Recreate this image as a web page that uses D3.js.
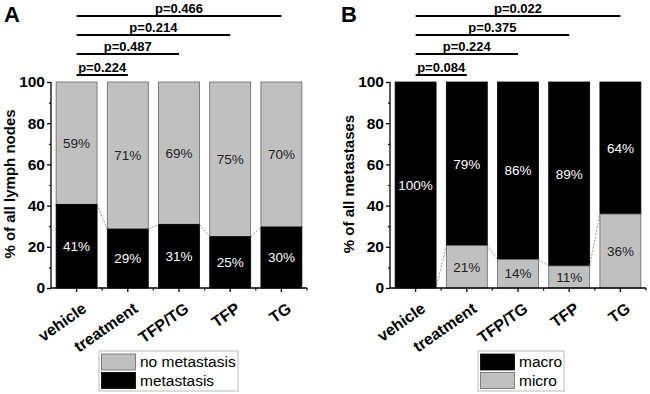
<!DOCTYPE html>
<html>
<head>
<meta charset="utf-8">
<script src="https://cdn.jsdelivr.net/npm/d3@7"></script>
<style>
body { margin: 0; background: #fff; }
svg { font-family: "Liberation Sans", Arial, sans-serif; }
</style>
</head>
<body>
<div id="svg-container"></div>
<script>
// groups on the x axis (same for both panels)
var groups = ["vehicle", "treatment", "TFP/TG", "TFP", "TG"];

// panel A: share of lymph nodes with metastasis (%), rest = no metastasis
var metastasisA = [40.6, 28.6, 30.9, 24.9, 29.6];
var pLabelsA = ["p=0.224", "p=0.487", "p=0.214", "p=0.466"];

// panel B: share of micro metastases (%), rest = macro
var microB = [0, 20.6, 13.9, 10.7, 35.9];
var pLabelsB = ["p=0.084", "p=0.224", "p=0.375", "p=0.022"];

var yTicks = [0, 20, 40, 60, 80, 100];

var W = 650, H = 394;
var svg = d3.select("#svg-container").append("svg")
	.attr("width", W).attr("height", H);

function drawPanel(opt) {
	var g = svg.append("g");
	var x = d3.scaleBand().domain(groups)
		.range([opt.x0, opt.x1]).paddingInner(0.2).paddingOuter(0.1);
	var y = d3.scaleLinear().domain([0, 100]).range([288, 82]);

	// stacked bars
	var bottomVals = opt.bottom;
	groups.forEach(function(gr, i) {
		var v = bottomVals[i];
		g.append("rect")
			.attr("x", x(gr)).attr("width", x.bandwidth())
			.attr("y", y(100)).attr("height", y(v) - y(100))
			.attr("fill", opt.topColor)
			.attr("stroke", opt.topColor == "#000" ? "#000" : "#666")
			.attr("stroke-width", 0.8);
		if (v > 0) {
			g.append("rect")
				.attr("x", x(gr)).attr("width", x.bandwidth())
				.attr("y", y(v)).attr("height", y(0) - y(v))
				.attr("fill", opt.bottomColor)
				.attr("stroke", opt.bottomColor == "#000" ? "#000" : "#666")
				.attr("stroke-width", 0.8);
		}
		// value labels
		var cx = x(gr) + x.bandwidth() / 2;
		var topPct = Math.round(100 - v), botPct = Math.round(v);
		g.append("text")
			.attr("x", cx).attr("y", (y(100) + y(v)) / 2)
			.attr("dy", "0.35em")
			.attr("text-anchor", "middle")
			.style("font-size", "13.5px")
			.style("fill", opt.topColor == "#000" ? "#fff" : "#222")
			.text(topPct + "%");
		if (v > 0) {
			g.append("text")
				.attr("x", cx).attr("y", (y(v) + y(0)) / 2)
				.attr("dy", "0.35em")
				.attr("text-anchor", "middle")
				.style("font-size", "13.5px")
				.style("fill", opt.bottomColor == "#000" ? "#fff" : "#222")
				.text(botPct + "%");
		}
	});

	// dashed connectors between segments
	for (var i = 0; i < groups.length - 1; i++) {
		g.append("line")
			.attr("x1", x(groups[i]) + x.bandwidth())
			.attr("y1", y(bottomVals[i]))
			.attr("x2", x(groups[i + 1]))
			.attr("y2", y(bottomVals[i + 1]))
			.attr("stroke", "#777")
			.attr("stroke-width", 0.8)
			.attr("stroke-dasharray", "2,1.5");
	}

	// y axis
	var yAxis = d3.axisLeft(y).tickValues(yTicks).tickSize(4).tickPadding(2);
	var ya = g.append("g").attr("transform", "translate(" + opt.x0 + ",0)").call(yAxis);
	ya.select(".domain").attr("stroke-width", 1.3).attr("d", "M0," + y(100) + "V" + y(0));
	ya.selectAll("line").attr("stroke-width", 1.3);
	ya.selectAll("text").style("font-size", "15.5px").style("font-weight", "bold").style("fill", "#000");
	g.append("g").attr("transform", "translate(" + opt.x0 + ",0)")
		.call(d3.axisLeft(y).tickValues([10, 30, 50, 70, 90]).tickSize(2).tickFormat(""))
		.call(function(s) { s.select(".domain").remove(); s.selectAll("line").attr("stroke-width", 1.2); });

	// x axis
	var xa = g.append("g").attr("transform", "translate(0," + y(0) + ")")
		.call(d3.axisBottom(x).tickSize(4).tickFormat(""));
	xa.select(".domain").attr("stroke-width", 1.3).attr("d", "M" + opt.x0 + ",0H" + opt.x1);
	xa.selectAll("line").attr("stroke-width", 1.3);
	var gaps = groups.slice(1).map(function(gr) { return x(gr) - x.step() * x.paddingInner() / 2; });
	gaps.push(opt.x1);
	gaps.forEach(function(gx) {
		xa.append("line").attr("x1", gx).attr("x2", gx).attr("y1", 0).attr("y2", 2.5)
			.attr("stroke", "#000").attr("stroke-width", 1.2);
	});
	groups.forEach(function(gr) {
		var cx = x(gr) + x.bandwidth() / 2;
		g.append("text")
			.attr("transform", "translate(" + (cx + 11) + "," + (y(0) + 23) + ") rotate(-35)")
			.attr("text-anchor", "end")
			.style("font-size", "16px").style("font-weight", "bold")
			.text(gr);
	});

	// y title
	g.append("text")
		.attr("transform", "translate(" + opt.titleX + "," + 184 + ") rotate(-90)")
		.attr("text-anchor", "middle")
		.attr("dy", "0.35em")
		.style("font-size", "15px").style("font-weight", "bold")
		.text(opt.title);

	// panel letter
	g.append("text").attr("x", opt.letterX).attr("y", 22)
		.style("font-size", "22px").style("font-weight", "bold").text(opt.letter);

	// significance brackets
	var lineY = [75, 54, 35, 16];
	opt.pLabels.forEach(function(p, k) {
		var xs = x(groups[0]) + x.bandwidth() / 2;
		var xe = x(groups[k + 1]) + x.bandwidth() / 2;
		g.append("line").attr("x1", xs).attr("x2", xe)
			.attr("y1", lineY[k]).attr("y2", lineY[k])
			.attr("stroke", "#000").attr("stroke-width", 1.8);
		g.append("text").attr("x", (xs + xe) / 2).attr("y", lineY[k] - 3)
			.attr("text-anchor", "middle")
			.style("font-size", "13px").style("font-weight", "bold")
			.text(p);
	});

	// legend
	var lg = g.append("g");
	lg.append("rect").attr("x", opt.leg.x).attr("y", 351)
		.attr("width", opt.leg.w).attr("height", 40)
		.attr("fill", "#fff").attr("stroke", "#bbb").attr("stroke-width", 1);
	opt.leg.items.forEach(function(it, k) {
		lg.append("rect").attr("x", opt.leg.x + 2.5).attr("y", 354 + k * 18.5)
			.attr("width", 34).attr("height", 16)
			.attr("fill", it[1]).attr("stroke", it[1] == "#000" ? "#000" : "#666").attr("stroke-width", 0.8);
		lg.append("text").attr("x", opt.leg.x + 41).attr("y", 362 + k * 18.5)
			.attr("dy", "0.35em")
			.style("font-size", "15.5px")
			.text(it[0]);
	});
}

drawPanel({
	x0: 51, x1: 307, bottom: metastasisA,
	topColor: "#c0c0c0", bottomColor: "#000",
	title: "% of all lymph nodes", titleX: 10,
	letter: "A", letterX: 4, pLabels: pLabelsA,
	leg: { x: 99, w: 139, items: [["no metastasis", "#c0c0c0"], ["metastasis", "#000"]] }
});
drawPanel({
	x0: 390, x1: 646, bottom: microB,
	topColor: "#000", bottomColor: "#c0c0c0",
	title: "% of all metastases", titleX: 349,
	letter: "B", letterX: 341, pLabels: pLabelsB,
	leg: { x: 478, w: 86, items: [["macro", "#000"], ["micro", "#c0c0c0"]] }
});
</script>
</body>
</html>
